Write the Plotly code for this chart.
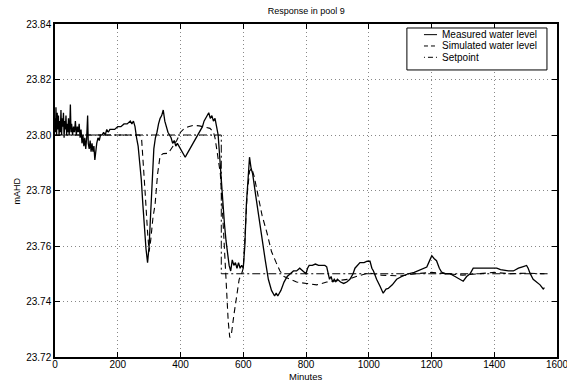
import plotly.graph_objects as go

# ---- data ----
meas_t = [0, 2, 3, 5, 7, 9, 11, 13, 15, 17, 19, 21, 23, 25, 27, 29, 31, 33, 35, 37, 39, 41, 43, 45, 47, 49,
          51, 53, 56, 59, 62, 65, 68, 71, 74, 77, 80, 83, 86, 89, 92, 95, 98, 101, 104, 106, 109, 112, 115,
          118, 121, 124, 127, 130, 133, 137, 141, 145, 150, 155, 160, 165, 170, 175, 180, 190, 200, 210,
          220, 230, 240, 245, 250, 255, 260, 265, 270, 275, 280, 285, 290, 295, 300, 305, 310, 315, 320,
          325, 330, 335, 340, 345, 350, 355, 360, 365, 370, 375, 380, 385, 390, 395, 400, 405, 410, 415,
          420, 425, 430, 440, 450, 460, 470, 475, 480, 485, 490, 495, 500, 505, 510, 515, 520, 525, 530,
          535, 540, 545, 550, 555, 560, 565, 570, 575, 580, 585, 590, 595, 600, 605, 610, 615, 620, 625,
          630, 640, 650, 660, 670, 680, 690, 700, 705, 710, 720, 730, 740, 750, 760, 770, 780, 790, 800,
          805, 810, 820, 830, 840, 850, 860, 866, 870, 875, 880, 885, 890, 895, 900, 910, 920, 930, 940,
          950, 956, 965, 972, 985, 995, 1004, 1010, 1015, 1025, 1036, 1046, 1055, 1062, 1075, 1089, 1105,
          1126, 1145, 1163, 1175, 1185, 1195, 1201, 1208, 1216, 1225, 1232, 1245, 1259, 1275, 1291, 1301,
          1312, 1323, 1333, 1350, 1370, 1390, 1408, 1420, 1429, 1445, 1461, 1477, 1490, 1503, 1508, 1514,
          1524, 1535, 1546, 1556, 1560]
meas_v = [23.806, 23.801, 23.810, 23.800, 23.808, 23.802, 23.807, 23.800, 23.805, 23.801, 23.809, 23.800,
          23.806, 23.803, 23.808, 23.799, 23.805, 23.802, 23.807, 23.800, 23.804, 23.801, 23.806, 23.800,
          23.803, 23.811, 23.801, 23.804, 23.800, 23.803, 23.801, 23.805, 23.800, 23.803, 23.801, 23.804,
          23.799, 23.802, 23.797, 23.800, 23.796, 23.799, 23.795, 23.799, 23.807, 23.797, 23.795, 23.798,
          23.794, 23.797, 23.794, 23.796, 23.791, 23.795, 23.797, 23.799, 23.798, 23.800, 23.800, 23.801,
          23.800, 23.802, 23.801, 23.802, 23.802, 23.802, 23.803, 23.803, 23.804, 23.804, 23.805, 23.804,
          23.805, 23.803, 23.799, 23.796, 23.790, 23.784, 23.775, 23.766, 23.759, 23.754, 23.760, 23.772,
          23.785, 23.795, 23.799, 23.801, 23.804, 23.806, 23.807, 23.809, 23.805, 23.803, 23.801, 23.800,
          23.799, 23.797, 23.798, 23.796, 23.797, 23.796, 23.795, 23.794, 23.793, 23.792, 23.793, 23.794,
          23.795, 23.797, 23.799, 23.801, 23.803, 23.805, 23.806, 23.807, 23.808, 23.806, 23.807, 23.805,
          23.806, 23.803, 23.800, 23.792, 23.783, 23.775, 23.768, 23.762, 23.757, 23.753, 23.751, 23.755,
          23.753, 23.754, 23.752, 23.754, 23.752, 23.753, 23.752, 23.760, 23.775, 23.786, 23.792, 23.788,
          23.786, 23.778, 23.770, 23.762, 23.755, 23.748, 23.744, 23.742, 23.743, 23.742, 23.744, 23.747,
          23.749, 23.750, 23.751, 23.751, 23.752, 23.751, 23.750, 23.752, 23.753, 23.753, 23.7535, 23.753,
          23.753, 23.753, 23.7525, 23.750, 23.748, 23.749, 23.747, 23.748, 23.7472, 23.748, 23.747,
          23.7465, 23.747, 23.748, 23.750, 23.752, 23.753, 23.754, 23.754, 23.7545, 23.7545, 23.752,
          23.751, 23.748, 23.7455, 23.743, 23.7445, 23.7447, 23.746, 23.748, 23.749, 23.750, 23.7505,
          23.7513, 23.752, 23.7524, 23.755, 23.7565, 23.7555, 23.7547, 23.752, 23.7506, 23.750, 23.750,
          23.749, 23.748, 23.7473, 23.749, 23.750, 23.752, 23.752, 23.752, 23.752, 23.752, 23.7515,
          23.7513, 23.751, 23.751, 23.752, 23.7525, 23.753, 23.752, 23.7502, 23.748, 23.747, 23.746,
          23.7445, 23.745]

sim_t = [0, 270, 276, 282, 288, 295, 300, 305, 312, 319, 327, 335, 345, 361, 375, 388, 400, 409, 425, 441,
         460, 473, 494, 505, 510, 518, 527, 535, 542, 548, 552, 557, 562, 570, 579, 587, 595, 600, 605, 612,
         620, 627, 635, 648, 660, 675, 690, 705, 717, 730, 749, 770, 802, 834, 866, 900, 934, 960, 1000,
         1040, 1100, 1150, 1200, 1250, 1300, 1350, 1400, 1450, 1500, 1560]
sim_v = [23.800, 23.800, 23.7986, 23.790, 23.778, 23.765, 23.758, 23.762, 23.770, 23.775, 23.786, 23.7925,
         23.7933, 23.7934, 23.796, 23.798, 23.801, 23.802, 23.803, 23.8035, 23.8033, 23.803, 23.8024, 23.801,
         23.799, 23.793, 23.786, 23.770, 23.755, 23.740, 23.733, 23.727, 23.728, 23.735, 23.743, 23.748,
         23.750, 23.752, 23.762, 23.778, 23.787, 23.788, 23.785, 23.777, 23.771, 23.765, 23.758, 23.754,
         23.751, 23.749, 23.748, 23.747, 23.7465, 23.746, 23.747, 23.7475, 23.748, 23.749, 23.7503,
         23.7495, 23.7492, 23.750, 23.7505, 23.750, 23.7495, 23.750, 23.7505, 23.750, 23.7502, 23.750]

set_t = [0, 530, 530, 1570]
set_v = [23.80, 23.80, 23.75, 23.75]

x_ticks = [0, 200, 400, 600, 800, 1000, 1200, 1400, 1600]
y_ticks = [23.72, 23.74, 23.76, 23.78, 23.80, 23.82, 23.84]

series_names = ["Measured water level", "Simulated water level", "Setpoint"]

FONT = "Liberation Sans, Arial, Helvetica, sans-serif"

fig = go.Figure()
fig.add_trace(go.Scatter(x=meas_t, y=meas_v, mode="lines", name=series_names[0],
                         line=dict(color="black", width=1.3), showlegend=False))
fig.add_trace(go.Scatter(x=sim_t, y=sim_v, mode="lines", name=series_names[1],
                         line=dict(color="black", width=1.1, dash="6px,4px"), showlegend=False))
fig.add_trace(go.Scatter(x=set_t, y=set_v, mode="lines", name=series_names[2],
                         line=dict(color="black", width=1.0, dash="8px,3px,2px,3px"), showlegend=False))

# custom legend box (paper coordinates)
lx0, lx1, ly0, ly1 = 0.701, 0.980, 0.862, 0.988
fig.add_shape(type="rect", xref="paper", yref="paper", x0=lx0, x1=lx1, y0=ly0, y1=ly1,
              line=dict(color="black", width=1), fillcolor="white", layer="above")
rows = [0.968, 0.934, 0.900]
legend_dashes = ["solid", "4px,3px", "1px,3px,5px,3px"]
for name, yy, dsh in zip(series_names, rows, legend_dashes):
    fig.add_shape(type="line", xref="paper", yref="paper", x0=0.735, x1=0.761, y0=yy, y1=yy,
                  line=dict(color="black", width=1, dash=dsh), layer="above")
    fig.add_annotation(xref="paper", yref="paper", x=0.766, y=yy, text=name, showarrow=False,
                       xanchor="left", yanchor="middle", font=dict(family=FONT, size=10, color="black"))

# axis titles
fig.add_annotation(xref="paper", yref="paper", x=0.5, y=-0.058, text="Minutes", showarrow=False,
                   xanchor="center", yanchor="middle", font=dict(family=FONT, size=9.5, color="black"))
fig.add_annotation(xref="paper", yref="paper", x=-0.0757, y=0.5, text="mAHD", showarrow=False,
                   textangle=-90, xanchor="center", yanchor="middle",
                   font=dict(family=FONT, size=9, color="black"))

axis_common = dict(showline=True, linecolor="black", linewidth=1.5, mirror="ticks",
                   ticks="inside", ticklen=5, tickcolor="black", tickwidth=1,
                   showgrid=True, gridcolor="#888", griddash="1px,3px", gridwidth=0.9,
                   zeroline=False, automargin=False, ticklabeloverflow="allow",
                   tickfont=dict(family=FONT, size=10, color="black"))

fig.update_layout(
    width=567, height=383,
    margin=dict(l=55, r=10, t=24, b=26, autoexpand=False),
    paper_bgcolor="white", plot_bgcolor="white",
    title=dict(text="Response in pool 9", x=0.54, xanchor="center", y=0.971, yanchor="middle",
               font=dict(family=FONT, size=9, color="black")),
    xaxis=dict(range=[0, 1600], tickvals=x_ticks, ticktext=[str(v) for v in x_ticks],
               ticklabelstandoff=-3, **axis_common),
    yaxis=dict(range=[23.72, 23.84], tickvals=y_ticks, ticktext=[f"{v:.2f}" for v in y_ticks],
               **axis_common),
    showlegend=False,
)

fig.write_html("out.html", config={"displayModeBar": False},
               post_script="document.body.style.margin='0px';document.body.style.overflow='hidden';")
